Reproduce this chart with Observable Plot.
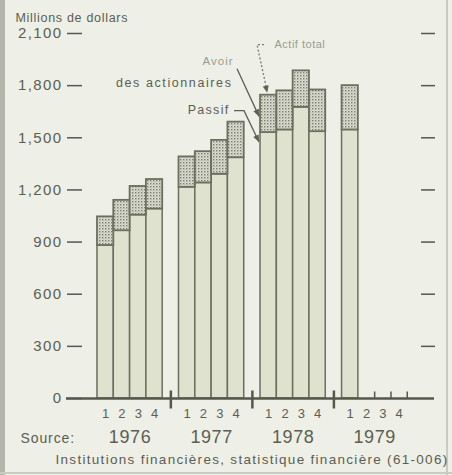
<!DOCTYPE html>
<html><head><meta charset="utf-8">
<script src="https://cdn.jsdelivr.net/npm/d3@7"></script>
<script src="https://cdn.jsdelivr.net/npm/@observablehq/plot@0.6"></script>
<style>
html,body{margin:0;padding:0;background:#eeefe7;}
#chart{position:relative;width:452px;height:475px;overflow:hidden;background:#eeefe7;}
#chart svg{display:block;position:absolute;left:0;top:0;}
.edge{position:absolute;background:#b4b5ab;}
</style></head><body>
<div id="chart">
  <div class="edge" style="left:0;top:0;width:5px;height:475px;"></div>
  <div class="edge" style="left:446px;top:0;width:2px;height:475px;background:#c9cac1"></div>
  <div class="edge" style="left:0;top:472px;width:452px;height:2px;background:#c9cac1"></div>
</div>
<script>
// ---- data ----
const years = ["1976", "1977", "1978", "1979"];
const quarters = ["1", "2", "3", "4"];
// Actif total (top of each bar), millions de dollars
const actifTotal = [1045, 1140, 1220, 1260, 1390, 1420, 1485, 1590, 1745, 1770, 1885, 1775, 1800, null, null, null];
// Passif (lower part of each bar)
const passif = [880, 965, 1055, 1090, 1215, 1240, 1290, 1385, 1530, 1545, 1675, 1535, 1545, null, null, null];
const yTicks = [0, 300, 600, 900, 1200, 1500, 1800, 2100];
const unitLabel = "Millions de dollars";
const sourceLabel = "Source:";
const sourceText = "Institutions financières, statistique financière (61-006)";
const annotated = {year: "1978", quarter: "1"};

// ---- table ----
const rows = [];
years.forEach((y, yi) => quarters.forEach((q, qi) => {
  const i = yi * 4 + qi;
  rows.push({year: y, quarter: q, yi, slot: yi * 5 + qi, total: actifTotal[i], passif: passif[i]});
}));
const bars = rows.filter(d => d.total != null);
const empty = rows.filter(d => d.total == null);
const seps = years.slice(0, -1).map((y, yi) => ({x: yi * 5 + 4.5}));
const yearPos = years.map((y, yi) => ({year: y, x: yi * 5 + 2}));
const target = bars.find(d => d.year === annotated.year && d.quarter === annotated.quarter);

const ink = "#5b5e51";
const barStroke = "#6c6f60";
const vbar = {draw(ctx) { ctx.moveTo(0, -8); ctx.lineTo(0, 10); }};
const upTick = {draw(ctx) { ctx.moveTo(0, 0); ctx.lineTo(0, -7); }};

const plot = Plot.plot({
  width: 452,
  height: 475,
  marginLeft: 66,
  marginRight: 18,
  marginTop: 33,
  marginBottom: 77,
  style: {background: "transparent", color: ink, fontFamily: "'Liberation Sans', Arial, sans-serif"},
  x: {type: "linear", domain: [-1.9, 20.67], axis: null},
  y: {domain: [0, 2100], axis: null},
  marks: [
    Plot.rectY(bars, {x1: "slot", x2: d => d.slot + 1, y1: 0, y2: "passif", fill: "#dfe2cf", stroke: barStroke, strokeWidth: 1.5}),
    Plot.rectY(bars, {x1: "slot", x2: d => d.slot + 1, y1: "passif", y2: "total", fill: "url(#stip)", stroke: barStroke, strokeWidth: 1.8}),
    Plot.ruleY([0], {stroke: "#55584a", strokeWidth: 2.5}),
    Plot.axisY({ticks: yTicks, anchor: "left", tickSize: 15, tickPadding: 5, dx: 16, tickFormat: d3.format(","), fontSize: 15, stroke: "#55584a", strokeWidth: 1.5, label: null}),
    Plot.axisY({ticks: yTicks.slice(1), anchor: "right", tickSize: 14, dx: -14, tickFormat: () => "", stroke: "#55584a", strokeWidth: 1.5, label: null}),
    Plot.dot(seps, {x: "x", y: 0, symbol: vbar, fill: "none", stroke: "#55584a", strokeWidth: 2.5}),
    Plot.dot(empty, {x: d => d.slot + 1, y: 0, symbol: upTick, fill: "none", stroke: "#55584a", strokeWidth: 1.5}),
    Plot.text(rows, {x: d => d.slot + 0.5, y: 0, dy: 15, text: "quarter", fontSize: 13, fill: ink}),
    Plot.text(yearPos, {x: "x", y: 0, dy: 39, text: "year", fontSize: 18, fill: ink}),
    Plot.text([unitLabel], {frameAnchor: "top-left", dx: -51, dy: -20, text: d => d, fontSize: 12.5, fill: ink, fontWeight: 500}),
    Plot.text([sourceLabel], {frameAnchor: "bottom-left", dx: -46, dy: 44, text: d => d, fontSize: 14, fill: ink}),
    Plot.text([sourceText], {frameAnchor: "bottom-left", dx: -11, dy: 65, text: d => d, fontSize: 13.5, fill: ink}),
    // annotations anchored on the annotated bar
    Plot.text([target], {x: "slot", y: "total", dx: 14, dy: -51, text: () => "Actif total", textAnchor: "start", fontSize: 11, fill: "#9a9c90"}),
    Plot.text([target], {x: "slot", y: "total", dx: -27, dy: -34, text: () => "Avoir", textAnchor: "end", fontSize: 11.5, fill: "#9a9c90"}),
    Plot.text([target], {x: "slot", y: "total", dx: -28, dy: -12, text: () => "des actionnaires", textAnchor: "end", fontSize: 12.5, fill: ink}),
    Plot.text([target], {x: "slot", y: "total", dx: -31, dy: 15, text: () => "Passif", textAnchor: "end", fontSize: 12.5, fill: ink, fontWeight: 500})
  ]
});

const svg = d3.select(plot);
// letter spacing to match the wide setting of the original
const spacing = new Map([
  [unitLabel, 0.7], [sourceLabel, 0.9], [sourceText, 1.3],
  ["des actionnaires", 1.6], ["Passif", 1.3], ["Avoir", 1.0], ["Actif total", 0.5],
  ...yTicks.map(t => [d3.format(",")(t), 1.4]),
  ...years.map(y => [y, 0.6])
]);
svg.selectAll("text").each(function () {
  const s = spacing.get(this.textContent);
  if (s != null) d3.select(this).style("letter-spacing", s + "px");
});

// stipple pattern
const defs = svg.insert("defs", ":first-child");
const pat = defs.append("pattern").attr("id", "stip").attr("patternUnits", "userSpaceOnUse").attr("width", 3).attr("height", 3);
pat.append("rect").attr("width", 3).attr("height", 3).attr("fill", "#dedfd3");
pat.append("rect").attr("width", 1.4).attr("height", 1.4).attr("fill", "#777a6d");
pat.append("rect").attr("x", 1.5).attr("y", 1.5).attr("width", 1).attr("height", 1).attr("fill", "#a0a295");

// leader lines
const sx = plot.scale("x"), sy = plot.scale("y");
const bx = sx.apply(target.slot), bc = sx.apply(target.slot + 0.5);
const yt = sy.apply(target.total), ym = sy.apply((target.total + target.passif) / 2), yp = sy.apply(target.passif);
const g = svg.append("g").attr("fill", "none").attr("stroke", "#5d6053").attr("stroke-width", 1.3);
function arrowHead(x1, y1, x2, y2, fill) {
  const a = Math.atan2(y2 - y1, x2 - x1), L = 7, W = 3;
  const p = [[x2, y2], [x2 - L * Math.cos(a) + W * Math.sin(a), y2 - L * Math.sin(a) - W * Math.cos(a)], [x2 - L * Math.cos(a) - W * Math.sin(a), y2 - L * Math.sin(a) + W * Math.cos(a)]];
  svg.append("path").attr("d", "M" + p.join("L") + "Z").attr("fill", fill).attr("stroke", "none");
}
// Actif total (dashed)
g.append("path").attr("d", `M${bx + 4},${yt - 50} H${bx - 3} L${bc - 1},${yt - 3}`).attr("stroke-dasharray", "2,2").attr("stroke", "#7a7c70");
arrowHead(bx - 3, yt - 50, bc - 1, yt - 2, "#5d6053");
// Avoir des actionnaires
g.append("path").attr("d", `M${bx - 23},${yt - 26} L${bx - 1},${ym + 3}`);
arrowHead(bx - 23, yt - 26, bx - 1, ym + 3, "#5d6053");
// Passif
g.append("path").attr("d", `M${bx - 26},${yt + 16} H${bx - 16} L${bx - 1},${yp + 10}`);
arrowHead(bx - 16, yt + 16, bx - 1, yp + 10, "#5d6053");

document.getElementById("chart").appendChild(plot);
</script>
</body></html>
